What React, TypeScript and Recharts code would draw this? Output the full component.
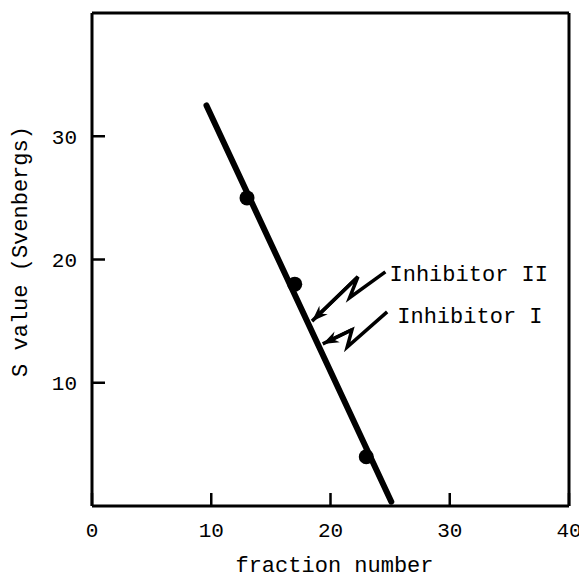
import React from 'react';
import { ScatterChart, Scatter, XAxis, YAxis, ReferenceLine, ReferenceDot } from 'recharts';

const FONT = '"Liberation Mono", "Courier New", monospace';

const xTicks = [0, 10, 20, 30, 40];
const yTicks = [10, 20, 30];

const fitX = [9.6, 25.1];
const fitY = [32.5, 0.35];

const pointX = [13, 17, 23];
const pointY = [25, 18, 4];

const arrowIIX = [24.6, 21.6, 22.3, 18.45];
const arrowIIY = [19.0, 16.9, 18.6, 15.0];
const arrowIX = [24.75, 21.4, 21.8, 19.35];
const arrowIY = [15.75, 12.9, 14.3, 13.15];

const labelNames = ['Inhibitor II', 'Inhibitor I'];
const labelX = [24.95, 25.6];
const labelY = [18.9, 15.5];

const zip = (xs: number[], ys: number[]) => xs.map((x, i) => ({ x, y: ys[i] }));

const fitData = zip(fitX, fitY);
const pointData = zip(pointX, pointY);
const arrowII = zip(arrowIIX, arrowIIY);
const arrowI = zip(arrowIX, arrowIY);

const TICK_LEN = 13;
const TICK_W = 2.5;
const TICK_FONT = 21;

const Empty = () => <g />;

const Dot = (props: any) => <circle cx={props.cx} cy={props.cy} r={7.5} fill="#000" />;

const BottomTick = (p: any) => (
  <g>
    <line x1={p.x} y1={p.y} x2={p.x} y2={p.y - TICK_LEN} stroke="#000" strokeWidth={TICK_W} />
    <text x={p.x} y={p.y + 31} textAnchor="middle" fontFamily={FONT} fontSize={TICK_FONT} fill="#000">
      {p.payload.value}
    </text>
  </g>
);

const TopTick = (p: any) => (
  <line x1={p.x} y1={p.y} x2={p.x} y2={p.y + TICK_LEN} stroke="#000" strokeWidth={TICK_W} />
);

const LeftTick = (p: any) => (
  <g>
    <line x1={p.x} y1={p.y} x2={p.x + TICK_LEN} y2={p.y} stroke="#000" strokeWidth={TICK_W} />
    <text
      x={p.x - 15}
      y={p.y}
      dy="0.36em"
      textAnchor="end"
      fontFamily={FONT}
      fontSize={TICK_FONT}
      fill="#000"
    >
      {p.payload.value}
    </text>
  </g>
);

const RightTick = (p: any) => (
  <line x1={p.x} y1={p.y} x2={p.x - TICK_LEN} y2={p.y} stroke="#000" strokeWidth={TICK_W} />
);

const ArrowHead = (props: any) => {
  const { x1, y1, x2, y2 } = props;
  const a = Math.atan2(y2 - y1, x2 - x1);
  const len = 16;
  const half = 6;
  const notch = 11;
  const bx = x2 - len * Math.cos(a);
  const by = y2 - len * Math.sin(a);
  const nx = x2 - notch * Math.cos(a);
  const ny = y2 - notch * Math.sin(a);
  const px = -Math.sin(a);
  const py = Math.cos(a);
  const pts = [
    [x2, y2],
    [bx + px * half, by + py * half],
    [nx, ny],
    [bx - px * half, by - py * half],
  ]
    .map((p) => p.join(','))
    .join(' ');
  return (
    <g>
      <line x1={x1} y1={y1} x2={nx} y2={ny} stroke="#000" strokeWidth={3.5} />
      <polygon points={pts} fill="#000" />
    </g>
  );
};

const YLabel = (props: any) => {
  const vb = props.viewBox;
  const cx = vb.x + 13;
  const cy = vb.y + vb.height / 2 - 8;
  return (
    <text
      x={cx}
      y={cy}
      transform={`rotate(-90, ${cx}, ${cy})`}
      textAnchor="middle"
      dominantBaseline="central"
      fontFamily={FONT}
      fontSize={22}
      fill="#000"
    >
      S value (Svenbergs)
    </text>
  );
};

const XLabel = (props: any) => {
  const vb = props.viewBox;
  return (
    <text
      x={vb.x + vb.width / 2 + 4}
      y={vb.y + 66}
      textAnchor="middle"
      fontFamily={FONT}
      fontSize={22}
      fill="#000"
    >
      fraction number
    </text>
  );
};

const axisLine = { stroke: '#000', strokeWidth: 3 };

export default function App() {
  return (
    <div style={{ background: '#fff' }}>
      <ScatterChart width={579} height={570} margin={{ top: 4, right: 17, bottom: 0, left: 0 }}>
        <XAxis
          type="number"
          dataKey="x"
          domain={[0, 40]}
          ticks={xTicks}
          interval={0}
          height={72}
          axisLine={axisLine}
          tickLine={false}
          tickSize={0}
          tickMargin={0}
          tick={(p: any) => <BottomTick {...p} />}
          label={<XLabel />}
        />
        <XAxis
          xAxisId="top"
          orientation="top"
          type="number"
          domain={[0, 40]}
          ticks={xTicks}
          interval={0}
          height={1}
          axisLine={axisLine}
          tickLine={false}
          tickSize={0}
          tickMargin={0}
          tick={(p: any) => <TopTick {...p} />}
        />
        <YAxis
          type="number"
          dataKey="y"
          domain={[0, 40]}
          ticks={yTicks}
          interval={0}
          width={84}
          axisLine={axisLine}
          tickLine={false}
          tickSize={0}
          tickMargin={0}
          tick={(p: any) => <LeftTick {...p} />}
          label={<YLabel />}
        />
        <YAxis
          yAxisId="right"
          orientation="right"
          type="number"
          domain={[0, 40]}
          ticks={yTicks}
          interval={0}
          width={1}
          axisLine={axisLine}
          tickLine={false}
          tickSize={0}
          tickMargin={0}
          tick={(p: any) => <RightTick {...p} />}
        />
        <Scatter
          data={fitData}
          line={{ stroke: '#000', strokeWidth: 6, strokeLinecap: 'round' }}
          lineType="joint"
          shape={<Empty />}
          isAnimationActive={false}
        />
        <Scatter data={pointData} shape={<Dot />} isAnimationActive={false} />
        <Scatter
          data={arrowII}
          line={{ stroke: '#000', strokeWidth: 3.5, strokeLinejoin: 'miter' }}
          lineType="joint"
          shape={<Empty />}
          isAnimationActive={false}
        />
        <Scatter
          data={arrowI}
          line={{ stroke: '#000', strokeWidth: 3.5, strokeLinejoin: 'miter' }}
          lineType="joint"
          shape={<Empty />}
          isAnimationActive={false}
        />
        <ReferenceLine segment={[arrowII[2], arrowII[3]]} shape={ArrowHead} />
        <ReferenceLine segment={[arrowI[2], arrowI[3]]} shape={ArrowHead} />
        {labelNames.map((name, i) => (
          <ReferenceDot
            key={name}
            x={labelX[i]}
            y={labelY[i]}
            r={0}
            fill="none"
            stroke="none"
            label={{ value: name, position: 'right', offset: 0, fontSize: 22, fill: '#000', fontFamily: FONT }}
          />
        ))}
      </ScatterChart>
    </div>
  );
}
